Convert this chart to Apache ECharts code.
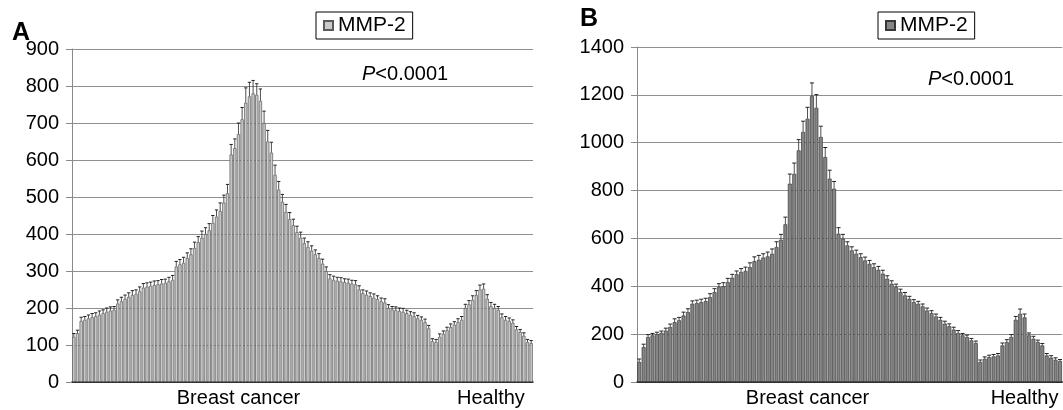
<!DOCTYPE html>
<html>
<head>
<meta charset="utf-8">
<script src="https://cdn.jsdelivr.net/npm/echarts@6/dist/echarts.min.js"></script>
<style>
html,body{margin:0;padding:0;background:#fff;}
#chart{width:1063px;height:410px;}
</style>
</head>
<body>
<div id="chart"></div>
<script>
// ---- Data ----
const seriesName = 'MMP-2';
const groupNames = ['Breast cancer', 'Healthy'];
const groupLabelIndexA = [45, 114];
const groupLabelIndexB = [38, 87];

const valuesA = [
  122,132,165,168,172,175,178,182,186,190,193,195,
  212,218,225,230,235,238,245,255,
  258,260,262,264,266,268,272,276,
  312,318,322,335,345,
  362,378,390,400,410,430,447,462,485,510,
  615,632,670,710,755,772,780,776,760,
  700,650,620,560,520,487,460,440,424,
  405,390,375,365,355,345,335,320,300,
  280,276,274,272,270,268,266,264,
  250,240,236,232,228,224,218,215,
  200,196,194,192,190,186,182,178,172,168,162,145,
  110,108,122,130,140,148,155,162,168,
  200,210,222,235,250,252,
  225,205,200,195,175,168,165,160,142,135,125,108,105
];
const errA = [
  9,8,10,9,9,10,9,10,9,10,10,9,
  10,11,10,11,12,11,12,11,
  10,10,11,10,11,10,11,12,
  14,13,15,14,15,
  16,15,18,17,18,20,18,22,20,24,
  27,25,30,32,40,38,35,30,32,
  32,30,28,26,22,20,20,18,16,
  16,15,14,14,13,12,12,12,11,
  10,10,9,10,9,10,9,10,
  10,9,10,9,10,9,9,10,
  9,8,9,8,9,8,8,9,8,8,8,8,
  7,7,8,8,8,9,8,9,9,
  10,10,11,12,12,13,
  11,10,10,9,9,9,8,8,8,7,8,7,7
];

const valuesB = [
  84,146,188,195,200,205,215,230,250,258,
  278,292,327,330,334,338,355,376,397,400,
  418,436,450,460,464,480,505,511,520,525,
  536,564,595,659,829,870,968,1045,1100,1195,
  1146,1024,940,850,808,620,599,571,550,536,
  522,508,494,480,469,453,432,411,397,376,
  362,348,334,327,316,299,288,274,260,244,
  233,219,205,195,188,174,163,84,97,104,
  107,111,153,167,188,260,285,270,195,181,
  167,153,111,102,93,88
];
const errB = [
  12,12,10,8,8,8,10,12,14,12,
  14,14,12,12,12,12,14,14,14,15,
  15,14,14,14,16,18,18,18,16,18,
  20,22,22,30,40,45,45,45,48,55,
  55,45,40,35,30,25,18,15,15,15,
  14,14,14,14,14,14,12,12,12,12,
  12,10,10,10,10,10,10,10,10,10,
  10,10,10,8,8,8,8,8,8,8,
  8,8,10,10,10,14,20,14,10,10,
  8,8,8,8,8,6
];

const yTicksA = {min: 0, max: 900, interval: 100};
const yTicksB = {min: 0, max: 1400, interval: 200};
const pText = 'P<0.0001';

// ---- Build ----
function cats(values, idx) {
  return values.map((v, i) => {
    const k = idx.indexOf(i);
    return k >= 0 ? groupNames[k] : '';
  });
}
const catsA = cats(valuesA, groupLabelIndexA);
const catsB = cats(valuesB, groupLabelIndexB);

const FONT = '"Liberation Sans", Arial, Helvetica, sans-serif';

function errItem(params, api) {
  const i = api.value(0), v = api.value(1), e = api.value(2);
  const p0 = api.coord([i, v]);
  const p1 = api.coord([i, v + e]);
  const w = api.size([1, 0])[0] * 0.45;
  return {
    type: 'group',
    children: [
      {type: 'line', shape: {x1: p0[0], y1: p0[1], x2: p1[0], y2: p1[1]}, style: {stroke: '#222', lineWidth: 0.8}},
      {type: 'line', shape: {x1: p1[0] - w, y1: p1[1], x2: p1[0] + w, y2: p1[1]}, style: {stroke: '#222', lineWidth: 1}}
    ]
  };
}

function yAxis(gi, t) {
  return {
    type: 'value', gridIndex: gi, min: t.min, max: t.max, interval: t.interval,
    axisLine: {show: true, lineStyle: {color: '#8a8a8a', width: 1}},
    axisTick: {show: true, length: 6, lineStyle: {color: '#8a8a8a'}},
    axisLabel: {color: '#000', fontSize: 20, fontFamily: FONT, margin: 13,
      formatter: (v) => String(v), padding: [5, 0, 0, 0]},
    splitLine: {show: true, lineStyle: {color: '#8f8f8f', width: 1}}
  };
}
function xAxis(gi, data) {
  return {
    type: 'category', gridIndex: gi, data: data,
    axisLine: {show: true, lineStyle: {color: '#111', width: 1.5}},
    axisTick: {show: false},
    axisLabel: {interval: 0, color: '#000', fontSize: 20, fontFamily: FONT, margin: 6},
    splitLine: {show: false}
  };
}

const chart = echarts.init(document.getElementById('chart'), null, {renderer: 'canvas'});
chart.setOption({
  animation: false,
  backgroundColor: '#fff',
  grid: [
    {left: 72, top: 49, width: 461, height: 333},
    {left: 637, top: 47, width: 426, height: 335}
  ],
  xAxis: [xAxis(0, catsA), xAxis(1, catsB)],
  yAxis: [yAxis(0, yTicksA), yAxis(1, yTicksB)],
  legend: [
    {
      data: [seriesName + ' A'], left: 316, top: 12, orient: 'horizontal',
      formatter: () => seriesName, icon: 'rect', itemWidth: 9, itemHeight: 9, itemGap: 5,
      borderColor: '#000', borderWidth: 1, padding: [3, 7, 3, 7],
      textStyle: {fontSize: 21, fontFamily: FONT, color: '#000'},
      selectedMode: false
    },
    {
      data: [seriesName + ' B'], left: 878, top: 12, orient: 'horizontal',
      formatter: () => seriesName, icon: 'rect', itemWidth: 9, itemHeight: 9, itemGap: 5,
      borderColor: '#000', borderWidth: 1, padding: [3, 7, 3, 7],
      textStyle: {fontSize: 21, fontFamily: FONT, color: '#000'},
      selectedMode: false
    }
  ],
  graphic: [
    {type: 'text', left: 12, top: 21, style: {text: 'A', font: 'bold 25px ' + FONT, fill: '#000'}},
    {type: 'text', left: 580, top: 7, style: {text: 'B', font: 'bold 25px ' + FONT, fill: '#000'}},
    {type: 'text', left: 362, top: 64, style: {
      text: '{i|P}' + pText.slice(1),
      font: '20px ' + FONT, fill: '#000',
      rich: {i: {fontStyle: 'italic', fontSize: 20, fontFamily: FONT}}
    }},
    {type: 'text', left: 928, top: 69, style: {
      text: '{i|P}' + pText.slice(1),
      font: '20px ' + FONT, fill: '#000',
      rich: {i: {fontStyle: 'italic', fontSize: 20, fontFamily: FONT}}
    }}
  ],
  series: [
    {
      name: seriesName + ' A', type: 'bar', xAxisIndex: 0, yAxisIndex: 0,
      data: valuesA, barCategoryGap: '12%',
      itemStyle: {color: '#cbcbcb', borderColor: '#5a5a5a', borderWidth: 0.7}
    },
    {
      type: 'custom', xAxisIndex: 0, yAxisIndex: 0, renderItem: errItem,
      data: valuesA.map((v, i) => [i, v, errA[i]]), z: 3
    },
    {
      name: seriesName + ' B', type: 'bar', xAxisIndex: 1, yAxisIndex: 1,
      data: valuesB, barCategoryGap: '12%',
      itemStyle: {color: '#858585', borderColor: '#383838', borderWidth: 0.7}
    },
    {
      type: 'custom', xAxisIndex: 1, yAxisIndex: 1, renderItem: errItem,
      data: valuesB.map((v, i) => [i, v, errB[i]]), z: 3
    }
  ]
});
</script>
</body>
</html>
